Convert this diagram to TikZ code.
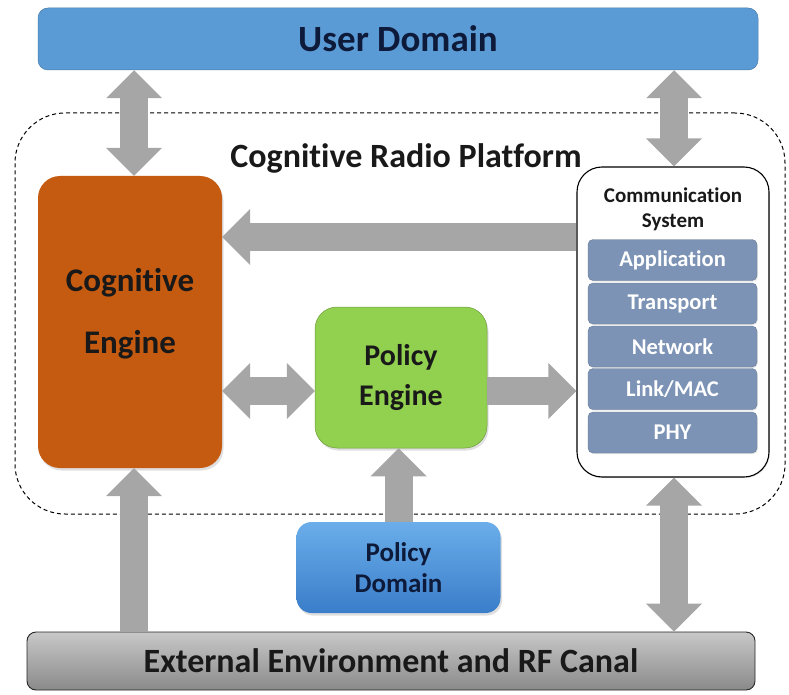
\documentclass[tikz,border=0pt]{standalone}
\usepackage{fontspec}
\setmainfont{Carlito}[Ligatures=NoCommon]
\usetikzlibrary{arrows.meta,shadows}

\definecolor{userblue}{HTML}{5B9BD5}
\definecolor{usertext}{HTML}{0E1A3A}
\definecolor{engorange}{HTML}{C55A11}
\definecolor{polgreen}{HTML}{92D050}
\definecolor{arrowgray}{HTML}{A6A6A6}
\definecolor{layerblue}{HTML}{7C93B5}
\definecolor{pdtop}{HTML}{6BAEEA}
\definecolor{pdbottom}{HTML}{3A7DC9}
\definecolor{exttop}{HTML}{C8C8C8}
\definecolor{extbottom}{HTML}{8A8A8A}

\tikzset{
  box/.style={inner sep=0pt, align=center, font=\bfseries},
  softshadow/.style={drop shadow={opacity=0.25, shadow xshift=1.5pt, shadow yshift=-2.5pt}},
  layershadow/.style={drop shadow={opacity=0.2, shadow xshift=0.8pt, shadow yshift=-1.2pt}},
  layerbox/.style={box, fill=layerblue, draw=layerblue!85!black, line width=0.4pt, layershadow,
    rounded corners=5pt, minimum width=169pt, minimum height=41pt,
    text=white, font=\bfseries\fontsize{22.5}{24}\selectfont},
  garrow/.style={draw=arrowgray, line width=28pt},
  % block arrow head
  hA/.tip={Triangle[length=28pt, width=56pt, line width=0pt]},
  % block arrows; the second pass runs the shaft into the head so no seam shows
  sarrow/.style={garrow, -hA, postaction={draw, -, shorten >=24pt}},
  darrow/.style={garrow, hA-hA, postaction={draw, -, shorten >=24pt, shorten <=24pt}},
}

\begin{document}
\begin{tikzpicture}[x=1pt, y=-1pt]
\useasboundingbox (0,0) rectangle (789,695);

% platform outline
\node[draw=black, line width=1pt, dash pattern=on 4pt off 3pt,
      rounded corners=50pt, minimum width=770pt, minimum height=401pt] (platform) at (400,313.5) {};
\node[box, font=\bfseries\fontsize{34}{38}\selectfont, text=black!90] (ptitle) at (406,158) {Cognitive Radio Platform};

% user domain
\node[box, fill=userblue, draw=userblue!80!black, line width=0.5pt, rounded corners=10pt,
      minimum width=720pt, minimum height=62pt, text=usertext,
      font=\bfseries\fontsize{37}{40}\selectfont] (user) at (398,39) {User Domain};

% cognitive engine
\node[box, fill=engorange, rounded corners=22pt, softshadow,
      minimum width=184pt, minimum height=292pt] (ce) at (130,322) {};
\node[box, font=\bfseries\fontsize{33}{36}\selectfont, text=black!90] (ce1) at (130,283) {Cognitive};
\node[box, font=\bfseries\fontsize{33}{36}\selectfont, text=black!90] (ce2) at (130,345) {Engine};

% policy engine
\node[box, fill=polgreen, draw=polgreen!75!black, line width=0.5pt, rounded corners=22pt, softshadow,
      minimum width=172pt, minimum height=141pt, text=black!90,
      font=\bfseries\fontsize{30}{40}\selectfont] (pe) at (401,377.5) {Policy\\Engine};

% policy domain
\node[box, top color=pdtop, bottom color=pdbottom, rounded corners=15pt, softshadow,
      minimum width=204pt, minimum height=91pt, text=usertext,
      font=\bfseries\fontsize{27}{31}\selectfont] (pd) at (398.5,567.5) {Policy\\Domain};

% communication system
\node[box, fill=white, draw=black, line width=1.1pt, rounded corners=25pt, layershadow,
      minimum width=192pt, minimum height=310pt] (cs) at (673,322) {};
\node[box, font=\bfseries\fontsize{21}{24.5}\selectfont, text=black!90] (cstitle) at (673,209.5) {Communication\\System};
\node[layerbox] (app) at (672.5,260) {Application};
\node[layerbox] (trn) at (672.5,303.5) {Transport};
\node[layerbox] (net) at (672.5,346.5) {Network};
\node[layerbox] (lnk) at (672.5,389) {Link/MAC};
\node[layerbox] (phy) at (672.5,432.5) {PHY};

% external environment
\node[box, top color=exttop, bottom color=extbottom, draw=black!85, line width=0.9pt, rounded corners=9pt,
      minimum width=728pt, minimum height=58pt, text=black!90,
      font=\bfseries\fontsize{34}{38}\selectfont] (ext) at (391,661) {External Environment and RF Canal};

% arrow axes
\coordinate (lx) at (134,0);
\coordinate (rx) at (674,0);
\coordinate (px) at (398.5,0);
\coordinate (hy) at (0,237);
\coordinate (my) at (0,391);

% connectors
\draw[darrow] (user.south -| lx) -- (ce.north -| lx);
\draw[darrow] (user.south -| rx) -- (cs.north -| rx);
\draw[sarrow] (cs.west |- hy) -- (ce.east |- hy);
\draw[darrow] (ce.east |- my) -- (pe.west |- my);
\draw[sarrow] (pe.east |- my) -- (cs.west |- my);
\draw[sarrow] (pd.north -| px) -- (pe.south -| px);
\draw[sarrow] (ext.north -| lx) -- (ce.south -| lx);
\draw[darrow] (ext.north -| rx) -- (cs.south -| rx);
\end{tikzpicture}
\end{document}
